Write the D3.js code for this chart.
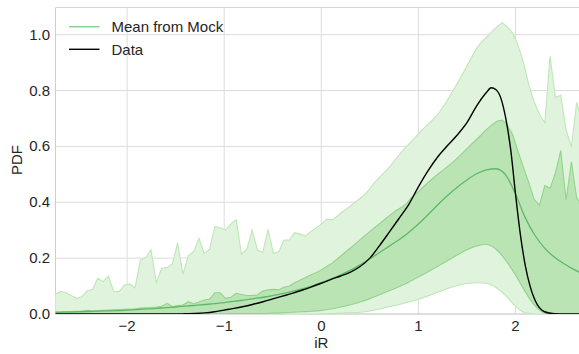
<!DOCTYPE html>
<html>
<head>
<meta charset="utf-8">
<script src="https://cdn.jsdelivr.net/npm/d3@7"></script>
<style>
  html, body { margin: 0; padding: 0; background: #fff; }
  svg { display: block; font-family: "Liberation Sans", Arial, sans-serif; }
</style>
</head>
<body>
<svg id="chart" width="579" height="354"></svg>
<script>
// Histogram bin centres (fine grid) used by the noisy upper envelopes
const iRFine = [
  -2.740,-2.685,-2.630,-2.576,-2.521,-2.466,-2.411,-2.356,-2.302,-2.247,
  -2.192,-2.137,-2.082,-2.028,-1.973,-1.918,-1.863,-1.808,-1.754,-1.699,
  -1.644,-1.589,-1.534,-1.480,-1.425,-1.370,-1.315,-1.260,-1.206,-1.151,
  -1.096,-1.041,-0.986,-0.932,-0.877,-0.822,-0.767,-0.712,-0.658,-0.603,
  -0.548,-0.493,-0.438,-0.384,-0.329,-0.274,-0.219,-0.164,-0.110,-0.055,
   0.000, 0.055, 0.110, 0.164, 0.219, 0.274, 0.329, 0.384, 0.438, 0.493,
   0.548, 0.603, 0.658, 0.712, 0.767, 0.822, 0.877, 0.932, 0.986, 1.041,
   1.096, 1.151, 1.206, 1.260, 1.315, 1.370, 1.425, 1.480, 1.534, 1.589,
   1.644, 1.699, 1.754, 1.808, 1.863, 1.918, 1.973, 2.028, 2.082, 2.137,
   2.192, 2.247, 2.302, 2.356, 2.411, 2.466, 2.521, 2.576, 2.630, 2.685
];

// Upper edge of the wide mock envelope
const outerHi = [
  0.072,0.080,0.077,0.066,0.056,0.062,0.083,0.088,0.128,0.116,
  0.136,0.080,0.080,0.104,0.107,0.094,0.193,0.202,0.229,0.112,
  0.164,0.166,0.179,0.255,0.143,0.208,0.223,0.271,0.217,0.232,
  0.313,0.309,0.301,0.322,0.337,0.214,0.232,0.301,0.229,0.220,
  0.303,0.217,0.223,0.265,0.265,0.291,0.286,0.279,0.295,0.307,
  0.322,0.339,0.337,0.350,0.366,0.380,0.395,0.410,0.425,0.445,
  0.470,0.490,0.510,0.530,0.555,0.578,0.600,0.618,0.640,0.660,
  0.678,0.697,0.717,0.745,0.775,0.808,0.840,0.875,0.910,0.945,
  0.972,0.990,1.010,1.028,1.043,1.028,1.005,0.960,0.900,0.820,
  0.760,0.715,0.685,0.923,0.775,0.783,0.660,0.598,0.758,0.690
];

// Upper edge of the narrow mock envelope
const midHi = [
  0.008,0.008,0.009,0.009,0.010,0.010,0.013,0.011,0.012,0.013,
  0.014,0.015,0.016,0.017,0.018,0.019,0.021,0.022,0.023,0.025,
  0.028,0.038,0.027,0.030,0.032,0.044,0.037,0.043,0.050,0.053,
  0.076,0.076,0.056,0.060,0.074,0.070,0.066,0.066,0.068,0.082,
  0.087,0.088,0.087,0.096,0.100,0.112,0.121,0.131,0.140,0.148,
  0.158,0.170,0.182,0.197,0.213,0.229,0.245,0.261,0.278,0.293,
  0.309,0.324,0.340,0.355,0.370,0.381,0.395,0.418,0.434,0.452,
  0.470,0.486,0.502,0.517,0.532,0.548,0.566,0.585,0.604,0.622,
  0.640,0.660,0.676,0.690,0.694,0.676,0.640,0.580,0.525,0.470,
  0.410,0.390,0.460,0.450,0.505,0.585,0.408,0.545,0.415,0.390
];

// Coarse grid for the smooth curves
const iRCoarse = [
  -2.8,-2.7,-2.6,-2.5,-2.4,-2.3,-2.2,-2.1,-2.0,-1.9,
  -1.8,-1.7,-1.6,-1.5,-1.4,-1.3,-1.2,-1.1,-1.0,-0.9,
  -0.8,-0.7,-0.6,-0.5,-0.4,-0.3,-0.2,-0.1, 0.0, 0.1,
   0.2, 0.3, 0.4, 0.5, 0.6, 0.7, 0.8, 0.9, 1.0, 1.1,
   1.2, 1.3, 1.4, 1.5, 1.6, 1.7, 1.8, 1.9, 2.0, 2.1,
   2.2, 2.3, 2.4, 2.5, 2.6, 2.7, 2.8
];

// Mean PDF of the mocks
const meanMock = [
  0.005,0.006,0.007,0.008,0.009,0.010,0.011,0.012,0.014,0.016,
  0.018,0.020,0.023,0.025,0.028,0.031,0.034,0.037,0.041,0.045,
  0.050,0.055,0.060,0.066,0.073,0.081,0.090,0.100,0.112,0.125,
  0.140,0.157,0.176,0.198,0.220,0.243,0.266,0.292,0.322,0.356,
  0.391,0.424,0.454,0.480,0.502,0.516,0.520,0.497,0.430,0.345,
  0.282,0.236,0.204,0.180,0.160,0.143,0.130
];

// Lower edge of the narrow envelope
const midLo = [
  0.001,0.001,0.001,0.001,0.001,0.001,0.001,0.001,0.001,0.001,
  0.001,0.001,0.001,0.001,0.001,0.001,0.001,0.001,0.001,0.002,
  0.002,0.002,0.002,0.003,0.004,0.006,0.008,0.010,0.013,0.018,
  0.025,0.033,0.043,0.055,0.069,0.083,0.098,0.114,0.132,0.151,
  0.171,0.191,0.211,0.230,0.244,0.249,0.232,0.192,0.140,0.080,
  0.030,0.003,0.000,0.000,0.000,0.000,0.000
];

// Lower edge of the wide envelope
const outerLo = [
  0.000,0.000,0.000,0.000,0.000,0.000,0.000,0.000,0.000,0.000,
  0.000,0.000,0.000,0.000,0.000,0.000,0.000,0.000,0.000,0.000,
  0.000,0.000,0.000,0.000,0.000,0.000,0.000,0.000,0.001,0.002,
  0.003,0.004,0.006,0.011,0.018,0.026,0.034,0.043,0.053,0.065,
  0.078,0.091,0.102,0.109,0.112,0.110,0.095,0.066,0.028,0.004,
  0.000,0.000,0.000,0.000,0.000,0.000,0.000
];

// Observed PDF
const dataIR = [
  -2.8,-2.6,-2.4,-2.2,-2.0,-1.8,-1.6,-1.5,-1.4,-1.3,
  -1.2,-1.1,-1.0,-0.9,-0.8,-0.7,-0.6,-0.5,-0.4,-0.3,
  -0.2,-0.1, 0.0, 0.1, 0.2, 0.3, 0.4, 0.5, 0.6, 0.7,
   0.8, 0.9, 1.0, 1.1, 1.2, 1.3, 1.4, 1.5, 1.6, 1.7,
   1.75,1.8,1.85,1.9,1.95,2.0,2.05,2.1,2.15,2.2,
   2.3, 2.4, 2.5, 2.6, 2.8
];
const dataPDF = [
  0.000,0.000,0.000,0.000,0.000,0.000,0.000,0.000,0.001,0.002,
  0.004,0.008,0.014,0.020,0.027,0.035,0.044,0.054,0.064,0.074,
  0.085,0.097,0.110,0.124,0.136,0.150,0.170,0.200,0.245,0.293,
  0.342,0.392,0.455,0.513,0.563,0.603,0.641,0.685,0.745,0.793,
  0.810,0.803,0.772,0.700,0.590,0.430,0.285,0.175,0.100,0.050,
  0.008,0.001,0.000,0.000,0.000
];

const xTicks = [-2, -1, 0, 1, 2];
const yTicks = [0.0, 0.2, 0.4, 0.6, 0.8, 1.0];

const svg = d3.select("#chart");
const plot = { left: 55.5, top: 7.5, bottom: 314 };

const x = d3.scaleLinear().domain([-2.74, 2.74]).range([55.25, 587.35]);
const y = d3.scaleLinear().domain([0, 1.1]).range([plot.bottom, plot.bottom - 1.1 * 279.3]);

svg.append("defs").append("clipPath").attr("id", "plotClip")
  .append("rect")
  .attr("x", plot.left).attr("y", plot.top)
  .attr("width", 600).attr("height", plot.bottom - plot.top);

// Grid
const grid = svg.append("g");
grid.selectAll("line.gx").data(xTicks).join("line")
  .attr("x1", d => x(d)).attr("x2", d => x(d))
  .attr("y1", plot.top).attr("y2", plot.bottom)
  .attr("stroke", "#dcdcdc").attr("stroke-width", 1);
grid.selectAll("line.gy").data(yTicks).join("line")
  .attr("x1", plot.left).attr("x2", 579)
  .attr("y1", d => y(d)).attr("y2", d => y(d))
  .attr("stroke", "#dcdcdc").attr("stroke-width", 1);

// Frame
svg.append("line").attr("x1", plot.left).attr("x2", plot.left)
  .attr("y1", plot.top).attr("y2", plot.bottom).attr("stroke", "#cfcfcf");
svg.append("line").attr("x1", plot.left).attr("x2", 579)
  .attr("y1", plot.top).attr("y2", plot.top).attr("stroke", "#d6d6d6");
svg.append("line").attr("x1", plot.left).attr("x2", 579)
  .attr("y1", plot.bottom).attr("y2", plot.bottom).attr("stroke", "#cfcfcf");

const g = svg.append("g").attr("clip-path", "url(#plotClip)");

const lineLin = d3.line().x(d => x(d[0])).y(d => y(d[1]));
const lineSmooth = d3.line().x(d => x(d[0])).y(d => y(d[1])).curve(d3.curveMonotoneX);

// One shaded envelope: noisy upper edge, smooth lower edge, thin outlines
function band(upperX, upperY, lowerX, lowerY, fill, edge) {
  const up = d3.zip(upperX, upperY);
  const lo = d3.zip(lowerX, lowerY).reverse();
  const upPath = lineLin(up);
  const loPath = lineSmooth(lo);
  g.append("path").attr("d", upPath + loPath.replace(/^M/, "L") + "Z")
    .attr("fill", fill).attr("stroke", "none");
  g.append("path").attr("d", upPath).attr("fill", "none")
    .attr("stroke", edge).attr("stroke-width", 1.1);
  g.append("path").attr("d", loPath).attr("fill", "none")
    .attr("stroke", edge).attr("stroke-width", 1.1);
}

band(iRFine, outerHi, iRCoarse, outerLo, "#e0f3dc", "#bfe6b8");
band(iRFine, midHi, iRCoarse, midLo, "#bae4b3", "#94d38e");

g.append("path").attr("d", lineSmooth(d3.zip(iRCoarse, meanMock)))
  .attr("fill", "none").attr("stroke", "#5fb867").attr("stroke-width", 1.3);

g.append("path").attr("d", lineSmooth(d3.zip(dataIR, dataPDF)))
  .attr("fill", "none").attr("stroke", "#000").attr("stroke-width", 1.4);

// Axes labels
const fmtY = d3.format(".1f");
svg.append("g").selectAll("text").data(yTicks).join("text")
  .attr("x", 50).attr("y", d => y(d) + 5)
  .attr("text-anchor", "end").attr("font-size", 15).attr("fill", "#262626")
  .text(d => fmtY(d));
svg.append("g").selectAll("text").data(xTicks).join("text")
  .attr("x", d => x(d)).attr("y", 331)
  .attr("text-anchor", "middle").attr("font-size", 15).attr("fill", "#262626")
  .text(d => d < 0 ? "\u2212" + Math.abs(d) : String(d));

svg.append("text").attr("x", x(0)).attr("y", 348)
  .attr("text-anchor", "middle").attr("font-size", 15).attr("fill", "#262626")
  .text("iR");
svg.append("text").attr("transform", "translate(22,160) rotate(-90)")
  .attr("text-anchor", "middle").attr("font-size", 15).attr("fill", "#262626")
  .text("PDF");

// Legend
const legend = [
  { label: "Mean from Mock", color: "#86cf88", y: 26.7 },
  { label: "Data", color: "#000", y: 49.3 }
];
const lg = svg.append("g");
lg.selectAll("line").data(legend).join("line")
  .attr("x1", 69).attr("x2", 99.5)
  .attr("y1", d => d.y).attr("y2", d => d.y)
  .attr("stroke", d => d.color).attr("stroke-width", 1.4);
lg.selectAll("text").data(legend).join("text")
  .attr("x", 111.5).attr("y", d => d.y + 5.3)
  .attr("font-size", 15).attr("fill", "#262626")
  .text(d => d.label);
</script>
</body>
</html>
